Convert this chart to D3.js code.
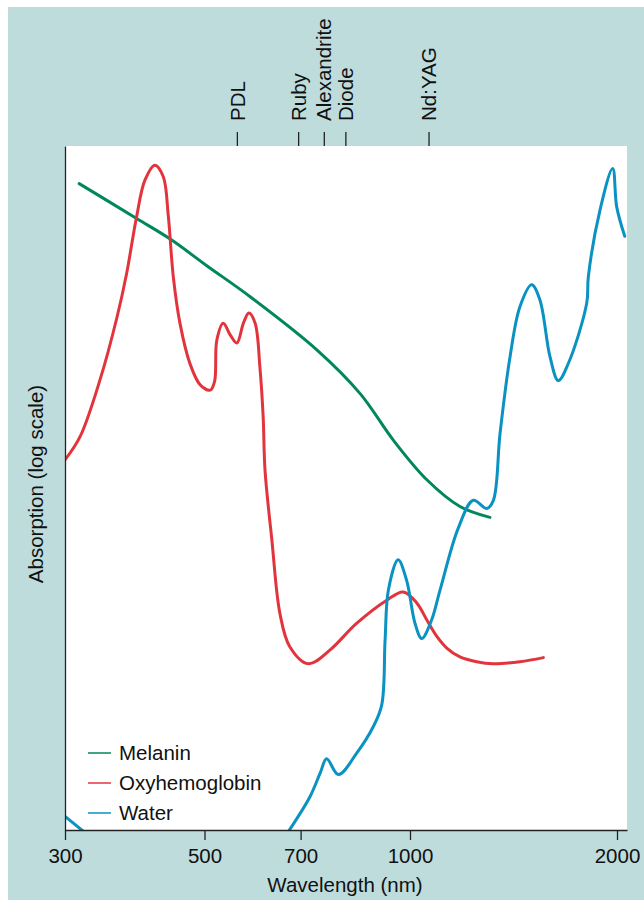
<!DOCTYPE html>
<html>
<head>
<meta charset="utf-8">
<script src="https://cdn.jsdelivr.net/npm/d3@7"></script>
<style>
  body { margin: 0; background: #fff; }
  text { font-family: "Liberation Sans", Arial, sans-serif; fill: #111; }
  .axis path, .axis line { stroke: #222; stroke-width: 1.3; }
  .axis text { font-size: 20.5px; fill: #111; font-family: "Liberation Sans", Arial, sans-serif; }
</style>
</head>
<body>
<div id="chart"></div>
<script>
// wavelength (nm) vs relative absorption (log units, 0 = bottom of plot, 100 = top)
const melanin = [
  [316, 94.5], [390, 89.4], [441, 86.4], [504, 82.5], [586, 78.0],
  [738, 70.2], [850, 63.8], [947, 57.0], [1058, 51.2], [1182, 47.3], [1307, 45.7]
];

const oxyhemoglobin = [
  [300, 54.1], [317, 57.5], [341, 65.8], [363, 75.0], [376, 81.4], [390, 89.7],
  [402, 95.0], [417, 97.2], [430, 95.5], [438, 89.7], [446, 80.9], [457, 74.1],
  [474, 68.2], [492, 65.1], [510, 64.3], [518, 65.6], [522, 71.6], [534, 74.1],
  [547, 72.4], [560, 71.2], [573, 74.1], [584, 75.6], [597, 74.1], [607, 67.7],
  [614, 60.4], [618, 52.6], [633, 42.4], [651, 31.7], [674, 26.8], [718, 24.3],
  [770, 26.3], [840, 30.2], [927, 33.6], [978, 34.8], [1023, 33.2], [1058, 30.7],
  [1094, 28.3], [1131, 26.6], [1182, 25.3], [1250, 24.6], [1320, 24.3],
  [1445, 24.6], [1563, 25.2]
];

// null marks where the curve leaves the bottom of the plot
const water = [
  [300, 2.0], [321, -0.2], null,
  [671, -0.2], [722, 4.9], [746, 8.3], [762, 10.4], [792, 8.1], [840, 11.2],
  [887, 15.1], [912, 18.3], [922, 27.8], [932, 35.1], [962, 39.5], [989, 36.5],
  [1017, 30.2], [1040, 28.0], [1075, 30.7], [1106, 35.1], [1175, 44.1],
  [1236, 48.2], [1293, 47.0], [1322, 48.2], [1352, 58.0], [1398, 69.2],
  [1445, 76.5], [1503, 79.7], [1545, 77.5], [1598, 69.2], [1643, 65.7],
  [1699, 68.2], [1807, 77.0], [1817, 80.9], [1889, 90.6], [1971, 96.7],
  [1998, 91.1], [2054, 86.8]
];

const lasers = [
  {name: "PDL", nm: 560},
  {name: "Ruby", nm: 694},
  {name: "Alexandrite", nm: 755},
  {name: "Diode", nm: 810},
  {name: "Nd:YAG", nm: 1064}
];

const xTicks = [300, 500, 700, 1000, 2000];

const series = [
  {name: "Melanin", data: melanin, color: "#00875c"},
  {name: "Oxyhemoglobin", data: oxyhemoglobin, color: "#e2343d"},
  {name: "Water", data: water, color: "#0a92c2"}
];

const margin = {top: 146, right: 17, bottom: 74, left: 65},
    width = 644 - margin.left - margin.right,
    height = 904 - margin.top - margin.bottom;

const svgRoot = d3.select("#chart")
  .append("svg")
    .attr("width", 644)
    .attr("height", 904);

// teal frame
svgRoot.append("rect")
  .attr("x", 8).attr("y", 7)
  .attr("width", 636).attr("height", 893)
  .attr("fill", "#bfdcdd");

const svg = svgRoot.append("g")
  .attr("transform", `translate(${margin.left}, ${margin.top})`);

svg.append("rect")
  .attr("width", width).attr("height", height)
  .attr("fill", "#fff");

svg.append("clipPath").attr("id", "plot-clip")
  .append("rect").attr("width", width).attr("height", height);

// the drawn axis is roughly logarithmic but not evenly spaced
const x = d3.scaleLog()
  .domain([300, 500, 700, 1000, 2000, 2070])
  .range([0, 139.5, 235.6, 345, 552, 562]);

const y = d3.scaleLinear()
  .domain([0, 100])
  .range([height, 0]);

const line = d3.line()
  .defined(d => d != null)
  .x(d => x(d[0]))
  .y(d => y(d[1]))
  .curve(d3.curveCatmullRom.alpha(0.5));

svg.append("g")
  .attr("clip-path", "url(#plot-clip)")
  .selectAll("path")
  .data(series)
  .join("path")
    .attr("d", d => line(d.data))
    .attr("fill", "none")
    .attr("stroke", d => d.color)
    .attr("stroke-width", 3)
    .attr("stroke-linejoin", "round")
    .attr("stroke-linecap", "round");

// bottom axis
svg.append("g")
  .attr("class", "axis")
  .attr("transform", `translate(0, ${height})`)
  .call(d3.axisBottom(x)
    .tickValues(xTicks)
    .tickFormat(d3.format("d"))
    .tickSizeInner(10)
    .tickSizeOuter(0)
    .tickPadding(8));

// left axis line only
svg.append("g")
  .attr("class", "axis")
  .call(d3.axisLeft(y).tickValues([]).tickSizeOuter(0));

// laser wavelengths on top
const laserAxis = svg.append("g")
  .attr("class", "axis")
  .call(d3.axisTop(x)
    .tickValues(lasers.map(d => d.nm))
    .tickFormat((d, i) => lasers[i].name)
    .tickSizeInner(14)
    .tickSizeOuter(0));
laserAxis.select(".domain").remove();
laserAxis.selectAll("text")
  .attr("transform", "rotate(-90)")
  .attr("x", 25)
  .attr("y", 0)
  .attr("dy", "0.35em")
  .attr("text-anchor", "start");

// axis titles
svg.append("text")
  .attr("x", 280)
  .attr("y", height + 62)
  .attr("text-anchor", "middle")
  .style("font-size", "20.5px")
  .text("Wavelength (nm)");

svg.append("text")
  .attr("transform", `translate(-22, 338) rotate(-90)`)
  .attr("text-anchor", "middle")
  .style("font-size", "20.5px")
  .text("Absorption (log scale)");

// legend
const legend = svg.selectAll(".legend")
  .data(series)
  .join("g")
    .attr("class", "legend")
    .attr("transform", (d, i) => `translate(23, ${607 + i * 30})`);

legend.append("line")
  .attr("x1", 0).attr("x2", 23)
  .attr("stroke", d => d.color)
  .attr("stroke-width", 1.5);

legend.append("text")
  .attr("x", 31)
  .attr("dy", "0.35em")
  .style("font-size", "20.5px")
  .text(d => d.name);
</script>
</body>
</html>
